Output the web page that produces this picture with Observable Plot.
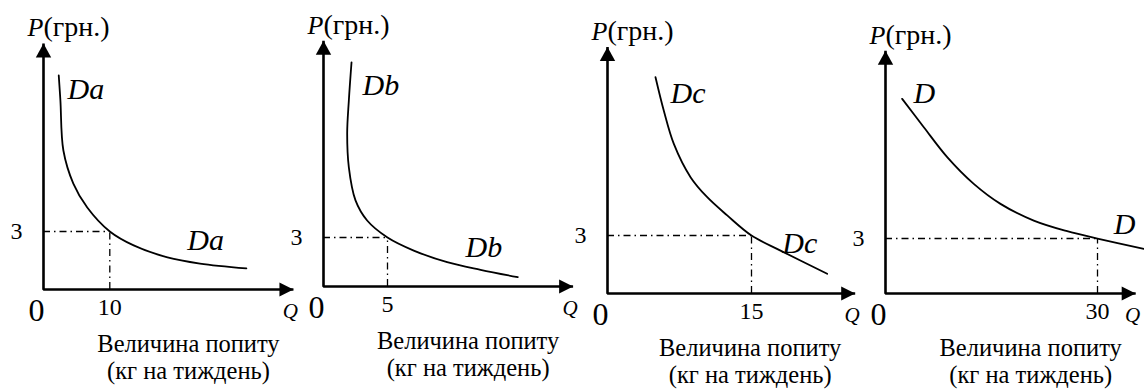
<!DOCTYPE html>
<html><head><meta charset="utf-8">
<script src="https://cdn.jsdelivr.net/npm/d3@7"></script>
<script src="https://cdn.jsdelivr.net/npm/@observablehq/plot@0.6"></script>
<style>
html,body{margin:0;padding:0;background:#fff;}
#chart{position:relative;width:1144px;height:391px;overflow:hidden;background:#fff;}
#chart svg{position:absolute;left:0;top:0;}
</style></head><body><div id="chart"></div>
<script>
// ---- data ----
const curveNames = ["Da", "Db", "Dc", "D"];
const qStar = [10, 5, 15, 30];          // quantity at P = 3
const pStar = 3;
const qMax = [37.7, 19.5, 25.8, 35.4];  // length of Q axis (units)
const pMax = [12.73, 15.05, 12.75, 13.25]; // length of P axis (units)
const yAxisLabel = "(грн.)";
const captionLine1 = "Величина попиту";
const captionLine2 = "(кг на тиждень)";

const curveA = [[2.30,11.07],[2.55,9.78],[3.0,7.19],[4.5,5.48],[6.6,4.24],[10,3],[13.6,2.28],[18.7,1.66],[23.6,1.34],[30.6,1.09]];
const curveB = [[2.19,13.73],[1.98,11.39],[1.85,9.37],[1.98,7.29],[2.5,5.27],[3.41,4.04],[5,3],[7.05,2.2],[9.66,1.49],[12.27,1.02],[15.18,0.57]];
const curveC = [[5.0,11.19],[5.86,9.47],[6.91,7.74],[8.65,6.02],[10.39,4.98],[12.47,4.04],[15,3],[18.02,2.22],[22.88,1.02]];
const curveD = [[2.36,10.62],[5.42,9.07],[8.73,7.44],[12.49,5.98],[16.27,4.89],[20.98,3.98],[25.71,3.40],[30,3],[36.55,2.44]];
const curves = [curveA, curveB, curveC, curveD];

// label anchor points (left-baseline) in data units
const labelsA = [[3.62,9.88],[21.7,2.02]];
const labelsB = [[3.05,11.7],[11.1,1.78]];
const labelsC = [[6.56,9.88],[18.2,2.12]];
const labelsD = [[3.96,10.37],[32.3,3.27]];
const curveLabelPts = [labelsA, labelsB, labelsC, labelsD];

// ---- layout (pixels) ----
const frames = [
  {ox: 43,  oy: 289, kx: 6.63,  ky: 19.33},
  {ox: 323, oy: 286, kx: 12.8,  ky: 16.33},
  {ox: 607, oy: 293, kx: 9.6,   ky: 19.33},
  {ox: 885, oy: 293, kx: 7.067, ky: 18.33}
];
const FONT = "Liberation Serif";

const upTri = {draw(ctx, size){ const r = Math.sqrt(size/Math.PI); const L = 2*r, w = 2.2*r;
  ctx.moveTo(0,0); ctx.lineTo(w/2,L); ctx.lineTo(-w/2,L); ctx.closePath(); }};
const rightTri = {draw(ctx, size){ const r = Math.sqrt(size/Math.PI); const L = 2*r, w = 2.0*r;
  ctx.moveTo(0,0); ctx.lineTo(-L,-w/2); ctx.lineTo(-L,w/2); ctx.closePath(); }};

const X = d => d[0], Y = d => d[1];
const chart = document.getElementById("chart");
const txt = {fontFamily: FONT, fill: "#000"};

curves.forEach((curve, i) => {
  const f = frames[i];
  const axisPts = [[0, pMax[i]], [0, 0], [qMax[i], 0]];
  const labs = curveLabelPts[i].map(p => ({q: p[0], p: p[1], t: curveNames[i]}));
  const svg = Plot.plot({
    width: 1144, height: 391,
    style: {background: "transparent", overflow: "visible"},
    x: {domain: [0, qMax[i]], range: [f.ox, f.ox + f.kx * qMax[i]], axis: null},
    y: {domain: [0, pMax[i]], range: [f.oy, f.oy - f.ky * pMax[i]], axis: null},
    marks: [
      Plot.ruleY([pStar], {x1: 0, x2: qStar[i], stroke: "#000", strokeWidth: 1.3, strokeDasharray: "7,4,1.5,4"}),
      Plot.ruleX([qStar[i]], {y1: 0, y2: pStar, stroke: "#000", strokeWidth: 1.3, strokeDasharray: "7,4,1.5,4"}),
      Plot.line(curve, {x: X, y: Y, curve: "catmull-rom", stroke: "#000", strokeWidth: 1.8}),
      Plot.line(axisPts, {x: X, y: Y, stroke: "#000", strokeWidth: 2.6, strokeLinejoin: "miter", strokeLinecap: "butt"}),
      Plot.dot([[0, pMax[i]]], {x: X, y: Y, symbol: upTri, r: 7, fill: "#000", stroke: "none"}),
      Plot.dot([[qMax[i], 0]], {x: X, y: Y, symbol: rightTri, r: 7, fill: "#000", stroke: "none"}),
      // P(грн.)
      Plot.text([[0, pMax[i]]], {x: X, y: Y, text: () => "P", textAnchor: "end", lineAnchor: "bottom", dy: -7, fontSize: 26, fontStyle: "italic", ...txt}),
      Plot.text([[0, pMax[i]]], {x: X, y: Y, text: () => yAxisLabel, textAnchor: "start", lineAnchor: "bottom", dy: -7, fontSize: 28, ...txt}),
      // 3
      Plot.text([[0, pStar]], {x: X, y: Y, text: d => String(d[1]), textAnchor: "end", lineAnchor: "middle", dx: -21, fontSize: 24, ...txt}),
      // 0
      Plot.text([[0, 0]], {x: X, y: Y, text: () => "0", textAnchor: "middle", lineAnchor: "middle", dx: -7, dy: 21, fontSize: 32, ...txt}),
      // Q*
      Plot.text([[qStar[i], 0]], {x: X, y: Y, text: d => String(d[0]), textAnchor: "middle", lineAnchor: "middle", dy: 18, fontSize: 24, ...txt}),
      // Q
      Plot.text([[qMax[i], 0]], {x: X, y: Y, text: () => "Q", textAnchor: "middle", lineAnchor: "middle", dx: -3, dy: 22, fontSize: 21, fontStyle: "italic", ...txt}),
      // curve labels
      Plot.text(labs, {x: "q", y: "p", text: "t", textAnchor: "start", lineAnchor: "bottom", fontSize: 30, fontStyle: "italic", ...txt}),
      // x caption (two lines)
      Plot.text([[qMax[i], 0]], {x: X, y: Y, text: () => captionLine1, textAnchor: "middle", lineAnchor: "bottom", dx: -105, dy: 62, fontSize: 24.5, ...txt}),
      Plot.text([[qMax[i], 0]], {x: X, y: Y, text: () => captionLine2, textAnchor: "middle", lineAnchor: "bottom", dx: -105, dy: 89, fontSize: 24.5, ...txt})
    ]
  });
  chart.appendChild(svg);
});
</script></body></html>
